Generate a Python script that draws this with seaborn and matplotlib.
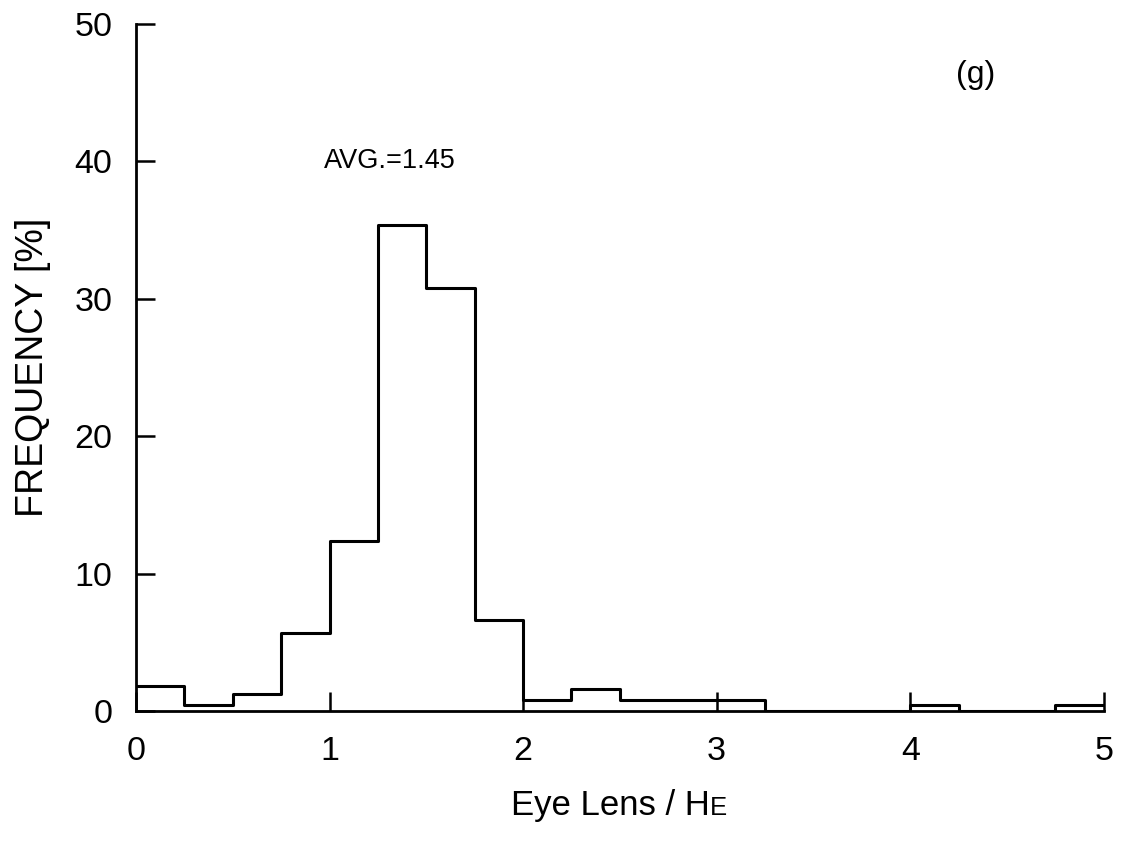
import numpy as np
import pandas as pd
import matplotlib
matplotlib.use("Agg")
import matplotlib.pyplot as plt
import seaborn as sns

# Bin edges (Eye Lens / HE) and frequency [%] per bin
bin_left = [0.00, 0.25, 0.50, 0.75, 1.00, 1.25, 1.50, 1.75, 2.00, 2.25,
            2.50, 2.75, 3.00, 3.25, 3.50, 3.75, 4.00, 4.25, 4.50, 4.75]
frequency = [1.8, 0.4, 1.2, 5.7, 12.4, 35.4, 30.8, 6.6, 0.8, 1.6,
             0.8, 0.8, 0.8, 0.0, 0.0, 0.0, 0.4, 0.0, 0.0, 0.4]
bin_width = 0.25
x_ticks = [0, 1, 2, 3, 4, 5]
y_ticks = [0, 10, 20, 30, 40, 50]
avg_label = "AVG.=1.45"
panel_label = "(g)"

sns.set_theme(style="ticks")
plt.rcParams["font.family"] = ["Liberation Sans", "DejaVu Sans"]

df = pd.DataFrame({"x": np.array(bin_left) + bin_width / 2, "freq": frequency})
edges = list(bin_left) + [bin_left[-1] + bin_width]

fig = plt.figure(figsize=(11.24, 8.43), dpi=100)
ax = fig.add_axes([0.121, 0.1566, 0.861, 0.815])

sns.histplot(data=df, x="x", weights="freq", bins=edges, element="step",
             fill=False, color="black", linewidth=2.2, ax=ax)

ax.set_xlim(0, 5)
ax.set_ylim(0, 50)
ax.set_xticks(x_ticks)
ax.set_yticks(y_ticks)
ax.set_xticklabels([str(t) for t in x_ticks])
ax.set_yticklabels([str(t) for t in y_ticks])

for s in ["top", "right"]:
    ax.spines[s].set_visible(False)
for s in ["left", "bottom"]:
    ax.spines[s].set_linewidth(2.0)
    ax.spines[s].set_color("black")

ax.tick_params(axis="both", direction="in", length=14, width=1.8,
               labelsize=24.5, colors="black")
ax.tick_params(axis="x", pad=18)
ax.tick_params(axis="y", pad=17)

ax.set_ylabel("FREQUENCY [%]", fontsize=27, labelpad=17, color="black")
ax.set_xlabel("Eye Lens / H", fontsize=25, labelpad=16, color="black")
ax.xaxis.label.set_x(0.49)

ax.annotate("E", xy=(1, 0), xycoords=ax.xaxis.label, xytext=(0.5, 5),
            textcoords="offset points", ha="left", va="baseline",
            fontsize=18.5, color="black")

ax.text(0.97, 40, avg_label, fontsize=19.5, ha="left", va="center", color="black")
ax.text(4.34, 46.3, panel_label, fontsize=23, ha="center", va="center", color="black")

fig.savefig("out.png", dpi=100, facecolor="white")
